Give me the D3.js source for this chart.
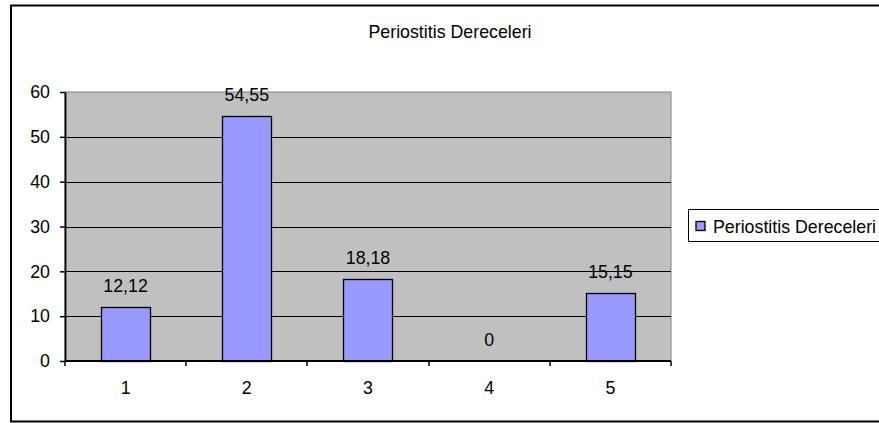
<!DOCTYPE html>
<html>
<head>
<meta charset="utf-8">
<script src="https://cdn.jsdelivr.net/npm/d3@7"></script>
<style>
  body { margin: 0; background: #fff; }
  svg { font-family: "Liberation Sans", Arial, sans-serif; }
</style>
</head>
<body>
<svg id="chart" width="879" height="423"></svg>
<script>
const categories = ['1', '2', '3', '4', '5'];
const values = [12.12, 54.55, 18.18, 0, 15.15];
const labels = ['12,12', '54,55', '18,18', '0', '15,15'];
const yTicks = [0, 10, 20, 30, 40, 50, 60];
const title = 'Periostitis Dereceleri';
const seriesName = 'Periostitis Dereceleri';

const svg = d3.select('#chart');
const margin = { top: 92, right: 208, bottom: 62, left: 65 };
const width = 879, height = 423;
const fs = 17.8;

// outer frame
svg.append('rect')
  .attr('x', 11).attr('y', 5.5)
  .attr('width', 880).attr('height', 416)
  .attr('fill', '#fff').attr('stroke', '#000').attr('stroke-width', 2);

const x = d3.scaleBand()
  .domain(categories)
  .range([margin.left, width - margin.right]);

const y = d3.scaleLinear()
  .domain([0, 60])
  .range([height - margin.bottom, margin.top]);

// plot area
svg.append('rect')
  .attr('x', margin.left).attr('y', margin.top)
  .attr('width', width - margin.right - margin.left)
  .attr('height', height - margin.bottom - margin.top)
  .attr('fill', '#c0c0c0').attr('stroke', '#808080');

// gridlines
svg.append('g')
  .selectAll('line')
  .data(yTicks.slice(1, -1))
  .join('line')
  .attr('x1', margin.left).attr('x2', width - margin.right)
  .attr('y1', (d) => Math.round(y(d)) + 0.5)
  .attr('y2', (d) => Math.round(y(d)) + 0.5)
  .attr('stroke', '#000');

// bars
const bw = x.bandwidth() * 0.405;
svg.append('g')
  .selectAll('rect')
  .data(values)
  .join('rect')
  .attr('x', (d, i) => Math.round(x(categories[i]) + x.bandwidth() / 2 - bw / 2) + 0.5)
  .attr('width', Math.round(bw))
  .attr('y', (d) => Math.round(y(d)) + 0.5)
  .attr('height', (d) => Math.round(y(0) - y(d)))
  .attr('fill', '#9999ff')
  .attr('stroke', '#000')
  .attr('stroke-width', 1.3)
  .attr('display', (d) => (d > 0 ? null : 'none'));

// value labels
svg.append('g')
  .selectAll('text')
  .data(values)
  .join('text')
  .attr('x', (d, i) => x(categories[i]) + x.bandwidth() / 2)
  .attr('y', (d) => y(d) - 15)
  .attr('text-anchor', 'middle')
  .attr('font-size', fs)
  .text((d, i) => labels[i]);

// y axis
const yAxis = svg.append('g')
  .attr('transform', `translate(${margin.left},0)`)
  .call(d3.axisLeft(y).tickValues(yTicks).tickSize(5).tickPadding(10).tickSizeOuter(0));
yAxis.selectAll('text').attr('font-size', fs).attr('fill', '#000').attr('font-family', null);
yAxis.selectAll('line').attr('stroke', '#000').attr('stroke-width', 1.5);
yAxis.select('.domain').attr('stroke', '#000').attr('stroke-width', 1.8);

// x axis (ticks at category boundaries)
const xAxisG = svg.append('g')
  .attr('transform', `translate(0,${height - margin.bottom})`);
xAxisG.append('line')
  .attr('x1', margin.left).attr('x2', width - margin.right)
  .attr('stroke', '#000').attr('stroke-width', 1.8);
const bounds = categories.map((c) => x(c)).concat([x(categories[categories.length - 1]) + x.bandwidth()]);
xAxisG.selectAll('line.tick')
  .data(bounds)
  .join('line')
  .attr('class', 'tick')
  .attr('x1', (d) => Math.round(d)).attr('x2', (d) => Math.round(d))
  .attr('y1', 0).attr('y2', 5)
  .attr('stroke', '#000').attr('stroke-width', 1.5);
xAxisG.selectAll('text')
  .data(categories)
  .join('text')
  .attr('x', (d) => x(d) + x.bandwidth() / 2)
  .attr('y', 33)
  .attr('text-anchor', 'middle')
  .attr('font-size', fs)
  .text((d) => d);

// title
svg.append('text')
  .attr('x', 450).attr('y', 38)
  .attr('text-anchor', 'middle')
  .attr('font-size', fs)
  .text(title);

// legend
const lg = svg.append('g').attr('transform', 'translate(688,209)');
lg.append('rect')
  .attr('x', 0.5).attr('y', 0.5).attr('width', 200).attr('height', 32)
  .attr('fill', '#fff').attr('stroke', '#000');
lg.append('rect')
  .attr('x', 8).attr('y', 12.5).attr('width', 9).attr('height', 9)
  .attr('fill', '#9999ff').attr('stroke', '#000').attr('stroke-width', 1.3);
lg.append('text')
  .attr('x', 25).attr('y', 23.5)
  .attr('font-size', fs)
  .text(seriesName);
</script>
</body>
</html>
